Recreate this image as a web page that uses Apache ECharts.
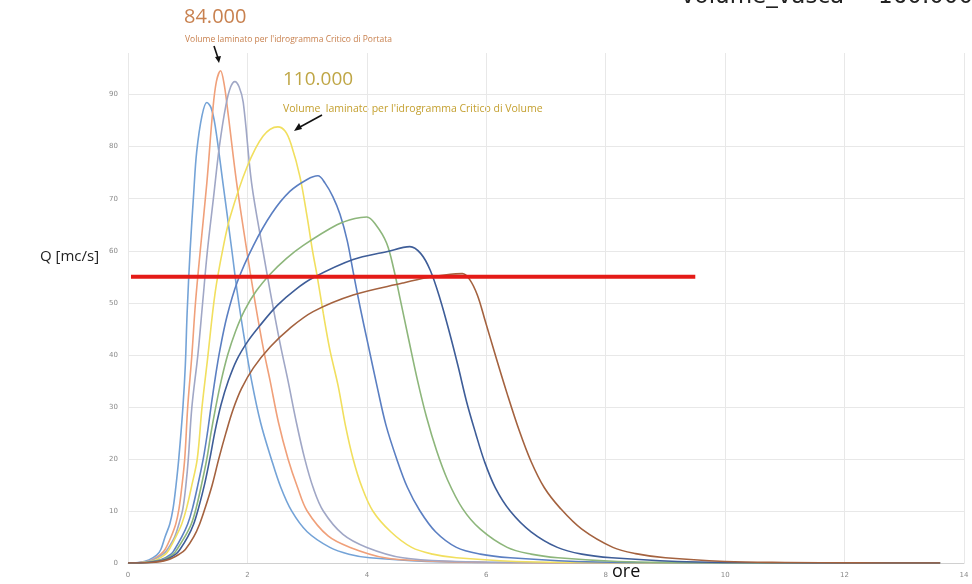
<!DOCTYPE html>
<html><head><meta charset="utf-8">
<script src="https://cdn.jsdelivr.net/npm/echarts@6/dist/echarts.min.js"></script>
<style>html,body{margin:0;padding:0;background:#fff}#c{width:972px;height:584px}</style>
</head><body><div id="c"></div>
<script>
const xTicks = [0, 2, 4, 6, 8, 10, 12, 14];
const yTicks = [0, 10, 20, 30, 40, 50, 60, 70, 80, 90];
const soglia = [[0.05, 55], [9.5, 55]];
const lightBlue = [[0,0],[0.17,0.1],[0.35,0.6],[0.48,1.5],[0.55,2.6],[0.62,5],[0.7,7.5],[0.755,10.5],[0.8,14.5],[0.85,20],[0.92,30],[0.96,38],[0.99,48],[1.04,60],[1.1,71],[1.15,79],[1.24,86],[1.32,88.5],[1.39,87.5],[1.46,84],[1.59,73],[1.74,60],[1.83,52],[1.95,43],[2.07,35],[2.22,27],[2.4,20],[2.56,14.5],[2.74,10],[3.0,6],[3.38,3],[3.7,1.7],[4.05,1],[5,0.3],[6,0.1],[8,0.02],[13.6,0]];
const orange = [[0,0],[0.2,0.1],[0.4,0.6],[0.55,1.7],[0.62,2.6],[0.72,5],[0.8,7.5],[0.855,10.5],[0.9,14.5],[0.95,20],[1.0,30],[1.07,40],[1.13,50],[1.21,60],[1.32,73],[1.42,87],[1.48,92.5],[1.55,94.6],[1.61,92],[1.68,86],[1.82,73],[1.99,60],[2.13,50],[2.27,41],[2.38,35],[2.52,27],[2.68,20],[2.84,14.5],[3.0,10],[3.35,5.2],[3.72,3],[4.3,1],[5,0.4],[6,0.1],[8,0.02],[13.6,0]];
const gray = [[0,0],[0.22,0.1],[0.42,0.6],[0.6,1.8],[0.66,2.6],[0.78,5],[0.86,7.8],[0.92,10.5],[0.97,15],[1.01,20],[1.07,30],[1.17,40],[1.25,50],[1.33,60],[1.43,70],[1.53,80],[1.64,88],[1.72,91.5],[1.79,92.5],[1.86,91.5],[1.93,88.5],[2.07,73],[2.26,60],[2.4,51],[2.55,42],[2.68,35],[2.82,27],[2.96,20],[3.1,14.5],[3.27,10],[3.6,5.5],[4.0,3],[4.6,1],[5.5,0.3],[6.5,0.1],[8.5,0.02],[13.6,0]];
const yellow = [[0,0],[0.25,0.1],[0.47,0.6],[0.63,1.7],[0.69,2.6],[0.8,5],[0.9,7.5],[0.98,10.5],[1.07,15],[1.16,20],[1.24,30],[1.33,39],[1.46,52],[1.6,61],[1.71,66.5],[1.99,76],[2.26,82],[2.51,83.8],[2.63,83],[2.73,80.5],[2.88,74.2],[3.0,66.5],[3.09,60],[3.17,55],[3.27,48],[3.38,41],[3.52,34],[3.64,26.5],[3.77,20],[3.92,14.5],[4.1,10],[4.4,6],[4.75,3],[5.1,1.7],[5.5,1],[6.5,0.3],[7.5,0.1],[9,0.02],[13.6,0]];
const blue = [[0,0],[0.3,0.1],[0.55,0.6],[0.72,1.7],[0.78,2.6],[0.9,5],[1.0,7.5],[1.08,10.5],[1.17,15],[1.26,20],[1.33,25],[1.39,30],[1.46,35.5],[1.54,41],[1.66,47.5],[1.83,54],[2.1,61],[2.41,67.2],[2.71,71.4],[3.0,73.7],[3.18,74.4],[3.3,73],[3.43,70.4],[3.55,67],[3.67,62],[3.77,56],[3.89,49],[4.02,42],[4.17,34],[4.32,26.5],[4.5,20],[4.68,14.5],[4.89,10],[5.15,6],[5.5,3],[5.9,1.7],[6.4,1],[7.5,0.3],[8.5,0.1],[10,0.02],[13.6,0]];
const green = [[0,0],[0.32,0.1],[0.58,0.6],[0.76,1.7],[0.82,2.6],[0.95,5],[1.06,7.5],[1.14,10.5],[1.23,15],[1.32,20],[1.39,25],[1.47,30],[1.56,35],[1.67,40],[1.8,44.5],[1.95,48.5],[2.15,52.3],[2.38,55.5],[2.65,58.5],[2.93,61],[3.5,65],[3.8,66.2],[4.0,66.5],[4.15,65],[4.33,61.5],[4.45,56.5],[4.56,50.6],[4.7,43],[4.85,35],[5.0,28],[5.17,21.5],[5.35,16],[5.6,10.5],[5.9,6.5],[6.35,3],[6.75,1.7],[7.2,1],[8.2,0.3],[9.2,0.1],[10.5,0.02],[13.6,0]];
const darkBlue = [[0,0],[0.34,0.1],[0.62,0.6],[0.8,1.7],[0.87,2.6],[1.0,5],[1.1,7.5],[1.18,10.5],[1.28,15],[1.37,20],[1.46,25.5],[1.56,30.5],[1.68,35],[1.82,39],[2.0,42.5],[2.2,45.5],[2.5,49.5],[2.8,52.5],[3.1,54.8],[3.77,58.3],[4.33,59.8],[4.72,60.8],[4.9,59.5],[5.06,56.3],[5.23,50.6],[5.39,44],[5.53,37.7],[5.67,31],[5.82,25],[5.97,19.5],[6.15,14.5],[6.4,10],[6.75,6],[7.19,3],[7.6,1.7],[8.1,1],[9.2,0.3],[10.2,0.1],[11.5,0.02],[13.6,0]];
const brown = [[0,0],[0.38,0.1],[0.66,0.6],[0.86,1.7],[0.96,2.6],[1.1,5],[1.2,7.5],[1.29,10.5],[1.41,15],[1.52,20],[1.64,25],[1.76,29.5],[1.9,33.5],[2.1,37.5],[2.38,41.5],[2.7,45],[3.1,48.3],[3.77,51.5],[4.6,53.8],[5.0,54.8],[5.4,55.5],[5.6,55.6],[5.72,54.5],[5.85,51.5],[5.97,47],[6.15,40],[6.35,32.5],[6.55,25.5],[6.75,19.5],[6.97,14.5],[7.24,10.5],[7.6,6.5],[8.12,3],[8.5,1.8],[9.0,1],[10,0.3],[11,0.1],[12.2,0.02],[13.6,0]];

const curves = [
  {name: 'c1', data: lightBlue, color: '#74A3D7'},
  {name: 'c2', data: orange, color: '#F0A07A'},
  {name: 'c3', data: gray, color: '#A0A7C6'},
  {name: 'c4', data: yellow, color: '#F1DF5E'},
  {name: 'c5', data: blue, color: '#5B7FC2'},
  {name: 'c6', data: green, color: '#8DB67B'},
  {name: 'c7', data: darkBlue, color: '#3E5D98'},
  {name: 'c8', data: brown, color: '#A4623F'}
];

const chart = echarts.init(document.getElementById('c'), null, {renderer: 'canvas'});
const series = curves.map(c => ({
  name: c.name, type: 'line', data: c.data, showSymbol: false, smooth: 0.35,
  lineStyle: {color: c.color, width: 1.6}, itemStyle: {color: c.color}, z: 2, silent: true
}));
series.push({
  name: 'soglia', type: 'line', data: soglia, showSymbol: false,
  lineStyle: {color: '#E41B17', width: 4}, z: 5, silent: true
});

const yLineColors = yTicks.map(() => '#E8E8E8').concat(['rgba(0,0,0,0)']);

chart.setOption({
  animation: false,
  backgroundColor: '#ffffff',
  grid: {left: 128, right: 8, top: 53, bottom: 21},
  xAxis: {
    type: 'value', min: xTicks[0], max: xTicks[xTicks.length - 1], interval: 2,
    axisLine: {show: true, lineStyle: {color: '#D0D0D0'}},
    axisTick: {show: false},
    axisLabel: {fontSize: 7, color: '#8A8A8A', margin: 9, fontFamily: 'DejaVu Sans'},
    splitLine: {show: true, lineStyle: {color: '#E8E8E8'}}
  },
  yAxis: {
    type: 'value', min: 0, max: 98, interval: 10,
    axisLine: {show: false}, axisTick: {show: false},
    axisLabel: {fontSize: 7, color: '#8A8A8A', margin: 10, showMaxLabel: false, fontFamily: 'DejaVu Sans'},
    splitLine: {show: true, lineStyle: {color: yLineColors}}
  },
  series: series,
  graphic: [
    {type: 'text', left: 40, top: 249, style: {text: 'Q [mc/s]', font: '15px "Open Sans"', fill: '#222'}},
    {type: 'text', left: 612, top: 563, style: {text: 'ore', font: '18px "Open Sans"', fill: '#111'}},
    {type: 'text', left: 681, top: -14, style: {text: 'volume_vasca = 160.000', font: '23px "DejaVu Sans"', fill: '#222'}},
    {type: 'text', left: 184, top: 7, style: {text: '84.000', font: '20px "Open Sans"', fill: '#C8814F'}},
    {type: 'text', left: 185, top: 35, style: {text: "Volume laminato per l'idrogramma Critico di Portata", font: '8.5px "Open Sans"', fill: '#C8814F'}},
    {type: 'text', left: 283, top: 70, style: {text: '110.000', font: '19px "Open Sans"', fill: '#BFA645'}},
    {type: 'text', left: 283, top: 104, style: {text: "Volume  laminato per l'idrogramma Critico di Volume", font: '10.5px "Open Sans"', fill: '#C4A030'}},
    {type: 'line', shape: {x1: 214, y1: 46, x2: 218, y2: 58}, style: {stroke: '#111', lineWidth: 1.6}},
    {type: 'polygon', shape: {points: [[215, 57], [221, 56], [219, 63]]}, style: {fill: '#111'}},
    {type: 'line', shape: {x1: 322, y1: 115, x2: 300, y2: 127}, style: {stroke: '#111', lineWidth: 1.6}},
    {type: 'polygon', shape: {points: [[299, 123], [302, 129], [294, 131]]}, style: {fill: '#111'}}
  ]
});
</script>
</body></html>
